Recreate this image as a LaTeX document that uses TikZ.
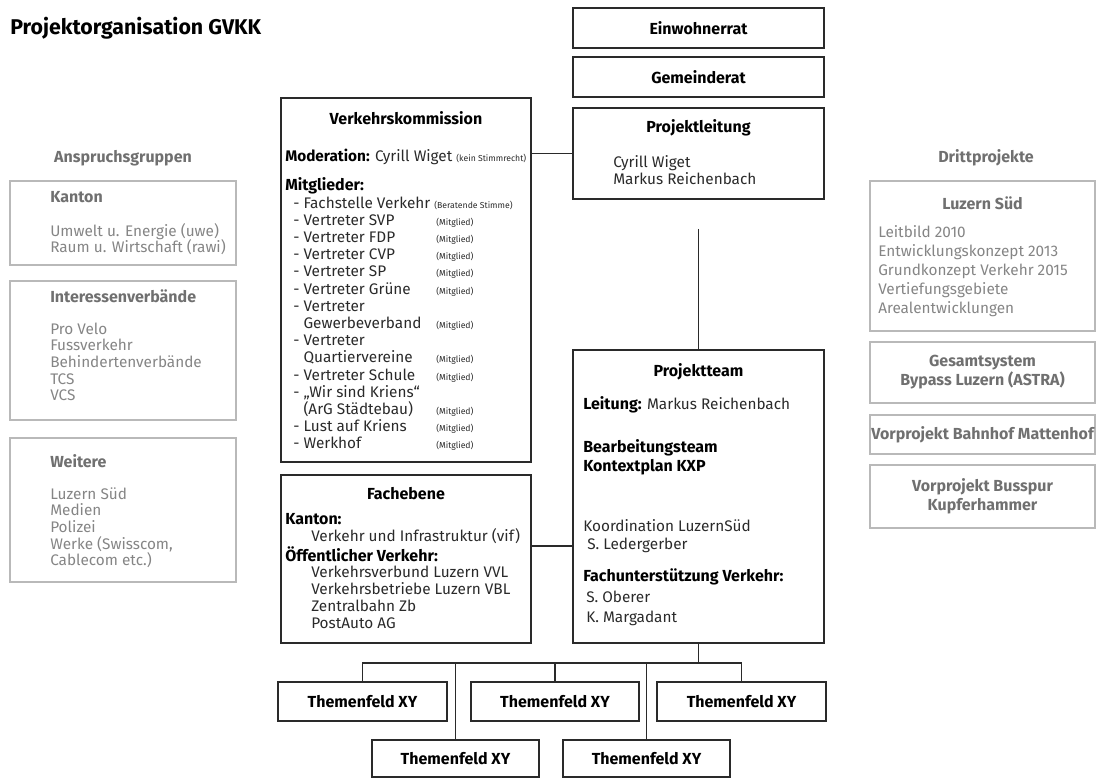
\documentclass[tikz,border=0pt]{standalone}
\usepackage{fontspec}
\setmainfont{Fira Sans}

\definecolor{boxline}{HTML}{2A2A2A}
\definecolor{sideline}{HTML}{B9B9B9}
\definecolor{sidetext}{HTML}{858585}
\definecolor{sidehead}{HTML}{707070}
\definecolor{maintext}{HTML}{2A2A2A}

\newcommand{\tagfont}{\fontsize{6.5}{7}\selectfont}

\tikzset{
  box/.style={draw=boxline, line width=1.4pt, inner sep=0pt,
    font=\bfseries\fontsize{12}{14}\selectfont, text=black},
  sidebox/.style={draw=sideline, line width=1pt, inner sep=0pt,
    font=\bfseries\fontsize{12}{14}\selectfont, text=sidehead},
  sized/.style 2 args={minimum width=#1*0.75pt, minimum height=#2*0.75pt},
  txt/.style={anchor=base west, inner sep=0pt,
    font=\fontsize{11.5}{13}\selectfont, text=maintext},
  bold/.style={txt, font=\bfseries\fontsize{12}{14}\selectfont, text=black},
  head/.style={anchor=base, inner sep=0pt,
    font=\bfseries\fontsize{12}{14}\selectfont, text=black},
  grayhead/.style={text=sidehead},
  sidelist/.style={txt, align=left, font=\fontsize{11.5}{12.5}\selectfont, text=sidetext},
  tag/.style={anchor=base west, inner sep=0pt, font=\tagfont, text=maintext},
  conn/.style={draw=boxline, line width=1.4pt},
}

\begin{document}
\begin{tikzpicture}[x=0.75pt, y=-0.75pt]
\useasboundingbox (0,0) rectangle (1098,778);

% Titel
\node[bold, font=\bfseries\fontsize{16}{18}\selectfont] (titel) at (10,34) {Projektorganisation GVKK};

% Anspruchsgruppen (mehrzeilige Texte: Basislinie der letzten Zeile)
\node[head, grayhead] (ansp) at (123,162) {Anspruchsgruppen};
\node[sidebox, sized={226}{84}] (kanton) at (123,223) {};
\node[bold, grayhead] (kantonhd) at (50,202) {Kanton};
\node[sidelist] (kantontx) at (50,252.7) {Umwelt u. Energie (uwe)\\Raum u. Wirtschaft (rawi)};

\node[sidebox, sized={226}{139}] (verb) at (123,350.5) {};
\node[bold, grayhead] (verbhd) at (50,302) {Interessenverbände};
\node[sidelist] (verbtx) at (50,400.7) {Pro Velo\\Fussverkehr\\Behindertenverbände\\TCS\\VCS};

\node[sidebox, sized={226}{144}] (weitere) at (123,510) {};
\node[bold, grayhead] (weiterehd) at (50,467) {Weitere};
\node[sidelist] (weiteretx) at (50,565.7) {Luzern Süd\\Medien\\Polizei\\Werke (Swisscom,\\Cablecom etc.)};

% Gremien
\node[box, sized={251}{40}] (ewr) at (698.5,28) {Einwohnerrat};
\node[box, sized={251}{40}] (gr) at (698.5,77) {Gemeinderat};

\node[box, sized={251}{91}] (pl) at (698.5,153.5) {};
\node[head] (plhd) at (698.5,132) {Projektleitung};
\node[txt, align=left, font=\fontsize{11.5}{12.75}\selectfont] (pltx) at (613,184) {Cyrill Wiget\\Markus Reichenbach};

% Verkehrskommission
\node[box, sized={250}{364}] (vk) at (406,280) {};
\node[head] (vkhd) at (406,124) {Verkehrskommission};
\node[txt] (vkmod) at (285,161) {{\color{black}\bfseries Moderation:} Cyrill Wiget {\tagfont (kein Stimmrecht)}};
\node[bold] (vkmg) at (285,190) {Mitglieder:};
\foreach \txt [count=\i from 0] in {{- Fachstelle Verkehr {\tagfont (Beratende Stimme)}},
    {- Vertreter SVP}, {- Vertreter FDP}, {- Vertreter CVP}, {- Vertreter SP},
    {- Vertreter Grüne}, {- Vertreter}, {\phantom{- }Gewerbeverband},
    {- Vertreter}, {\phantom{- }Quartiervereine}, {- Vertreter Schule},
    {- „Wir sind Kriens“}, {\phantom{- }(ArG Städtebau)},
    {- Lust auf Kriens}, {- Werkhof}}
  \node[txt] (vkl\i) at (293,{208+17.2*\i}) {\txt};
\foreach \i in {1,2,3,4,5,7,9,10,12,13,14}
  \node[tag] (mg\i) at (436,{208+17.2*\i}) {(Mitglied)};

% Fachebene
\node[box, sized={250}{168}] (fe) at (406,559) {};
\node[head] (fehd) at (406,499) {Fachebene};
\node[bold] (fekt) at (285,524) {Kanton:};
\node[txt] (fevif) at (311,541) {Verkehr und Infrastruktur (vif)};
\node[bold] (feov) at (285,561) {Öffentlicher Verkehr:};
\node[txt, align=left, font=\fontsize{11.5}{12.75}\selectfont] (feovtx) at (311,628)
  {Verkehrsverbund Luzern VVL\\Verkehrsbetriebe Luzern VBL\\Zentralbahn Zb\\PostAuto AG};

% Projektteam
\node[box, sized={251}{293}] (pt) at (698.5,496.5) {};
\node[head] (pthd) at (698.5,376) {Projektteam};
\node[txt] (ptlt) at (583,409) {{\color{black}\bfseries\fontsize{12}{14}\selectfont Leitung:} Markus Reichenbach};
\node[bold, align=left] (ptbt) at (583,471) {Bearbeitungsteam\\Kontextplan KXP};
\node[txt, align=left, font=\fontsize{11.5}{13.5}\selectfont] (ptko) at (583,549) {Koordination LuzernSüd\\\hspace*{3pt}S. Ledergerber};
\node[bold] (ptfu) at (583,581) {Fachunterstützung Verkehr:};
\node[txt, align=left, font=\fontsize{11.5}{14.5}\selectfont] (ptfutx) at (586,622) {S. Oberer\\K. Margadant};

% Themenfelder
\node[box, sized={169}{39}] (tf1) at (362.5,701.5) {Themenfeld XY};
\node[box, sized={168}{39}] (tf2) at (555,701.5) {Themenfeld XY};
\node[box, sized={169}{39}] (tf3) at (741.5,701.5) {Themenfeld XY};
\node[box, sized={167}{37}] (tf4) at (455.5,758.5) {Themenfeld XY};
\node[box, sized={167}{37}] (tf5) at (646.5,758.5) {Themenfeld XY};

% Drittprojekte
\node[head, grayhead] (dritt) at (986,162) {Drittprojekte};
\node[sidebox, sized={225}{150}] (lzs) at (982.5,256) {};
\node[head, grayhead] (lzshd) at (982.5,209) {Luzern Süd};
\node[sidelist, font=\fontsize{11.5}{14.25}\selectfont] (lzstx) at (878,313)
  {Leitbild 2010\\Entwicklungskonzept 2013\\Grundkonzept Verkehr 2015\\Vertiefungsgebiete\\Arealentwicklungen};
\node[sidebox, sized={225}{61}, align=center, font=\bfseries\fontsize{12}{14.25}\selectfont] (gsys) at (982.5,372.5)
  {Gesamtsystem\\Bypass Luzern (ASTRA)};
\node[sidebox, sized={225}{39}] (bhm) at (982.5,434.5) {Vorprojekt Bahnhof Mattenhof};
\node[sidebox, sized={225}{63}, align=center, font=\bfseries\fontsize{12}{14.25}\selectfont] (bsp) at (982.5,496.5)
  {Vorprojekt Busspur\\Kupferhammer};

% Verbindungen
\draw[conn] (pl.west) -- (pl.west -| vk.east);
\draw[conn] ([yshift=9.75pt]fe.east) -- ([yshift=9.75pt]fe.east -| pt.west);
\draw[conn] ([yshift=-21.75pt]pl.south) -- (pt.north);
\coordinate (bus) at ([yshift=-14.25pt]pt.south);
\draw[conn] (pt.south) -- (bus);
\draw[conn] (tf1.north) |- (bus) -| (tf3.north);
\draw[conn] (tf2.north) -- (tf2.north |- bus);
\draw[conn] (tf4.north) -- (tf4.north |- bus);
\draw[conn] (tf5.north) -- (tf5.north |- bus);
\end{tikzpicture}
\end{document}
